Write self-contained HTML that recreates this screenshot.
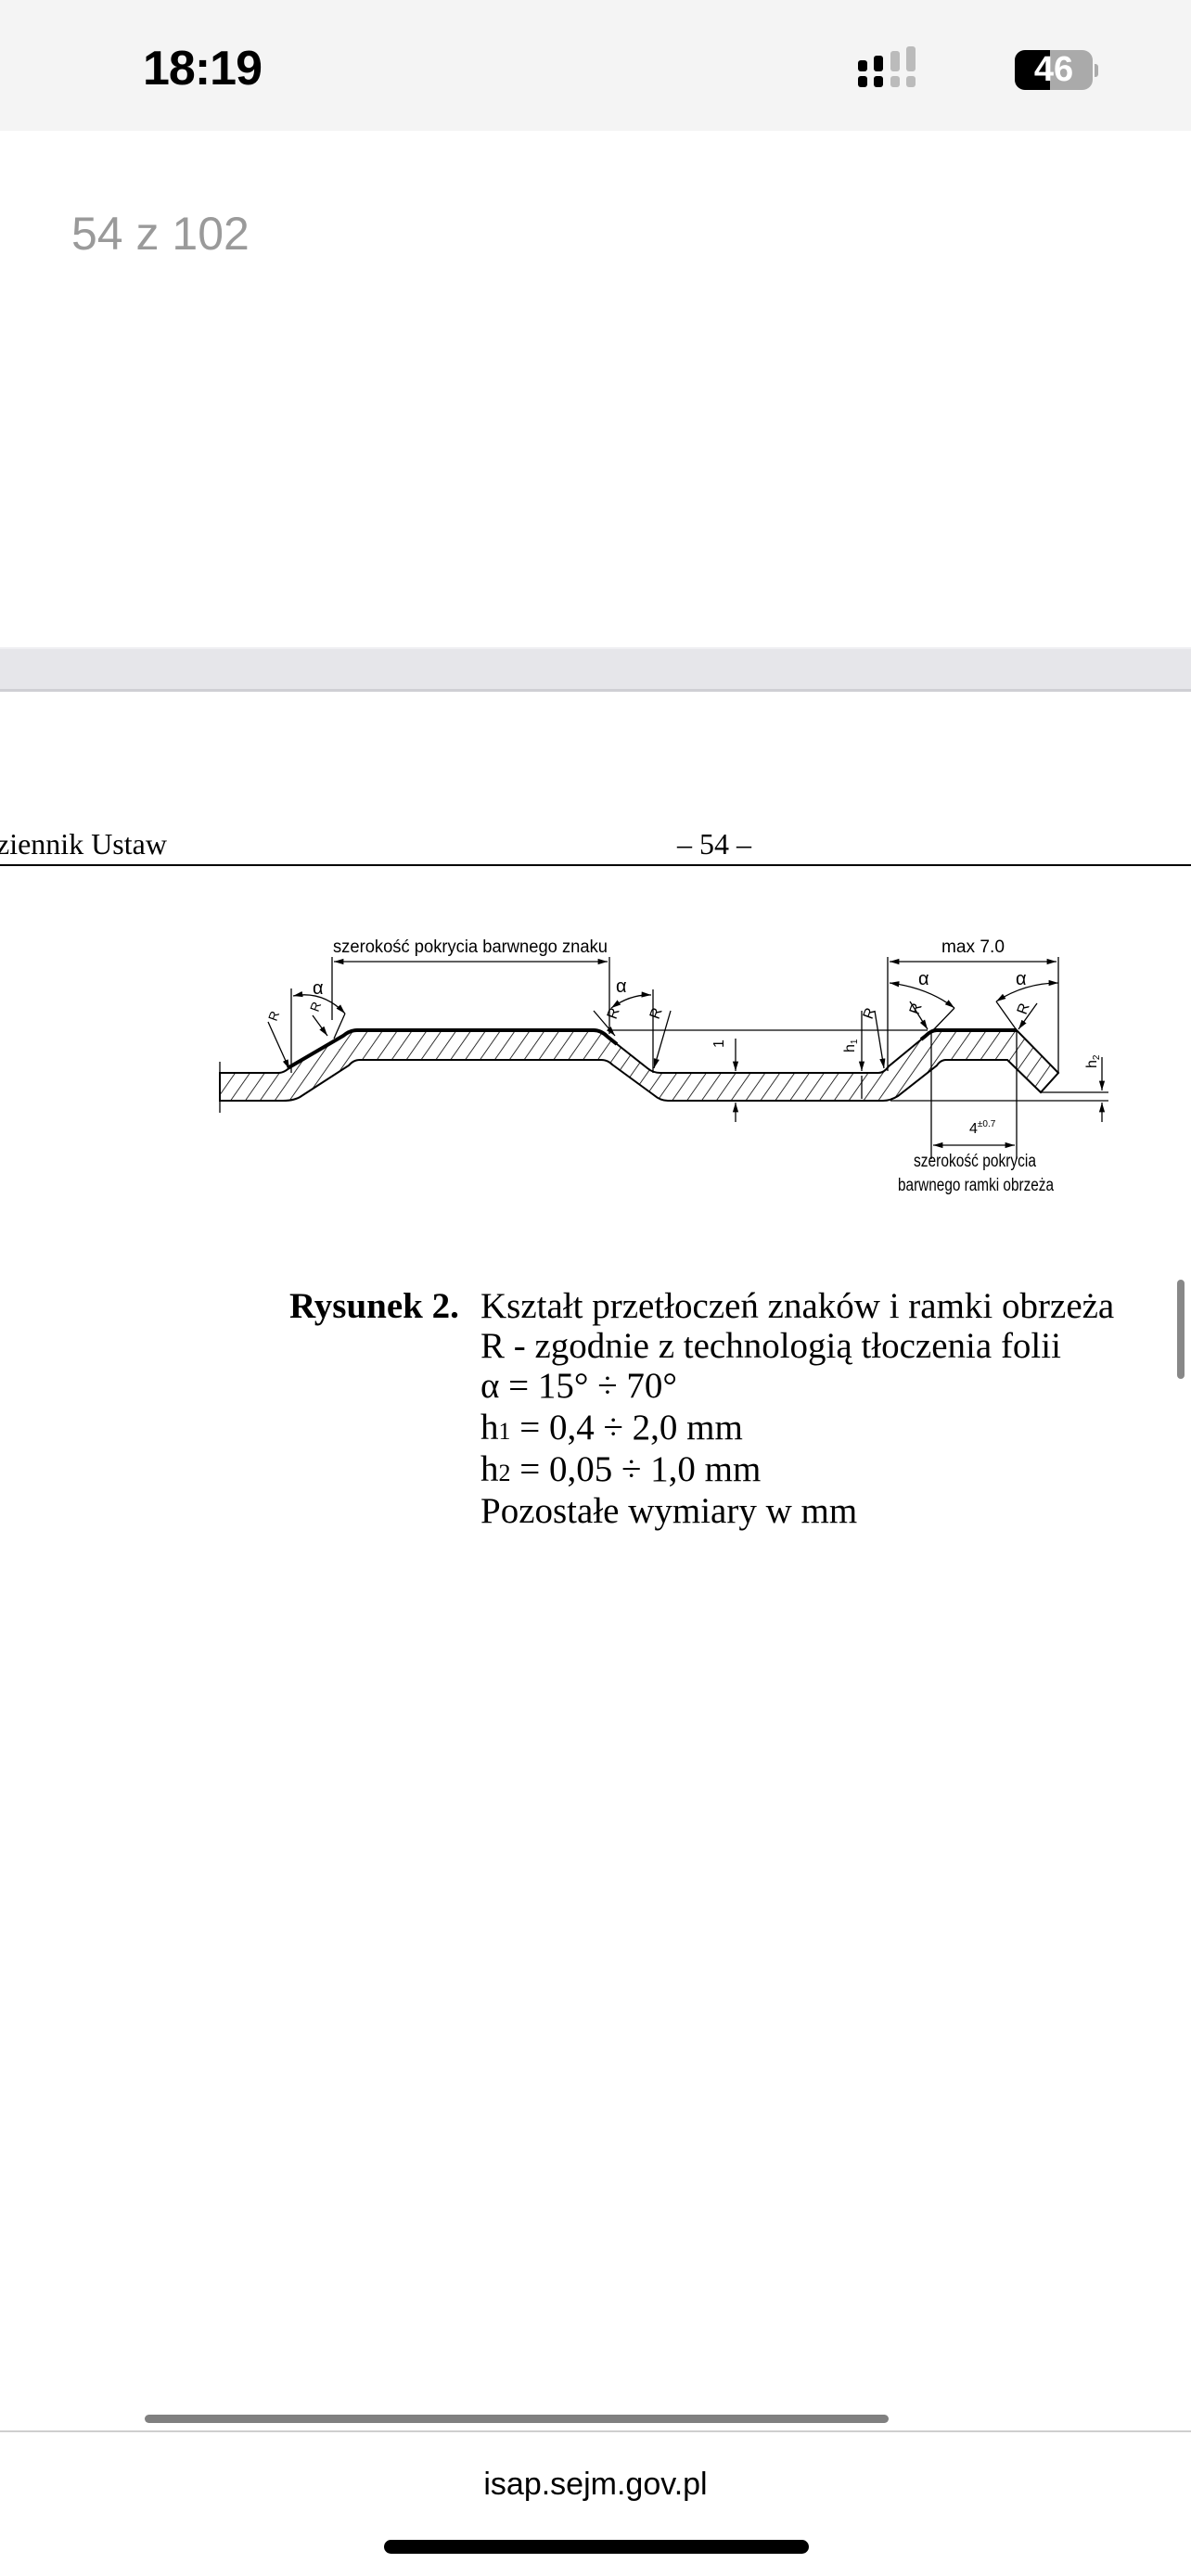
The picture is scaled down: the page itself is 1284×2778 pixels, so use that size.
<!DOCTYPE html>
<html><head><meta charset="utf-8">
<style>
html,body{margin:0;padding:0;background:#fff;}
body{width:1284px;height:2778px;position:relative;overflow:hidden;font-family:"Liberation Sans",sans-serif;}
.abs{position:absolute;}
.serif{font-family:"Liberation Serif",serif;color:#000;}
.cap{position:absolute;left:518px;font-family:"Liberation Serif",serif;font-size:39px;line-height:1;white-space:nowrap;}
.cap span{font-size:26px;}
</style></head><body>
<div class="abs" style="left:0;top:0;width:1284px;height:141px;background:#f4f4f4;"></div>
<div class="abs" style="left:154px;top:44px;font-size:52px;font-weight:bold;letter-spacing:-1px;">18:19</div>
<div class="abs" style="left:925px;top:65px;width:10px;height:12px;background:#000;border-radius:3px;"></div>
<div class="abs" style="left:925px;top:82px;width:10px;height:12px;background:#000;border-radius:3px;"></div>
<div class="abs" style="left:942px;top:60px;width:10px;height:17px;background:#000;border-radius:3px;"></div>
<div class="abs" style="left:942px;top:82px;width:10px;height:12px;background:#000;border-radius:3px;"></div>
<div class="abs" style="left:960px;top:55px;width:10px;height:22px;background:#bbb;border-radius:3px;"></div>
<div class="abs" style="left:960px;top:82px;width:10px;height:12px;background:#bbb;border-radius:3px;"></div>
<div class="abs" style="left:977px;top:50px;width:10px;height:27px;background:#bbb;border-radius:3px;"></div>
<div class="abs" style="left:977px;top:82px;width:10px;height:12px;background:#bbb;border-radius:3px;"></div>
<div class="abs" style="left:1094px;top:54px;width:84px;height:43px;background:#aaa;border-radius:11px;overflow:hidden;">
<div style="width:38px;height:43px;background:#000;"></div></div>
<div class="abs" style="left:1094px;top:52px;width:84px;height:46px;line-height:46px;text-align:center;color:#fff;font-weight:bold;font-size:38px;">46</div>
<div class="abs" style="left:1180px;top:69px;width:4px;height:14px;background:#aaa;border-radius:0 3px 3px 0;"></div>

<div class="abs" style="left:77px;top:223px;font-size:50px;color:#9a9a9a;">54 z 102</div>

<div class="abs" style="left:0;top:698px;width:1284px;height:43px;background:#e6e6ea;border-top:2px solid #efeff2;border-bottom:3px solid #cfcfd4;"></div>

<div class="abs serif" style="left:-4px;top:892px;font-size:32px;">ziennik Ustaw</div>
<div class="abs serif" style="left:730px;top:892px;font-size:32px;">– 54 –</div>
<div class="abs" style="left:0;top:932px;width:1284px;height:2px;background:#000;"></div>

<svg class="abs" style="left:0;top:0" width="1284" height="1400" viewBox="0 0 1284 1400">
<defs>
<pattern id="h" width="13" height="13" patternUnits="userSpaceOnUse" patternTransform="rotate(35)">
<line x1="0" y1="0" x2="0" y2="13" stroke="#000" stroke-width="1.6"/></pattern>
<marker id="a" viewBox="0 0 10 10" refX="10" refY="5" markerWidth="8" markerHeight="8" orient="auto-start-reverse"><path d="M0,2 L10,5 L0,8 Z" fill="#000"/></marker>
</defs>
<path d="M237,1157 L300,1157 Q308,1157 315,1148 L370,1117 Q377,1111 385,1111 L640,1111 Q648,1111 655,1118 L698,1152 Q704,1157 712,1157 L947,1157 Q953,1157 958,1150 L998,1117 Q1004,1111 1010,1111 L1096,1111 L1141,1157 L1122,1178 L1086,1143 L1020,1143 Q1014,1143 1010,1149 L968,1182 Q960,1187 952,1187 L720,1187 Q712,1187 705,1181 L660,1148 Q655,1143 648,1143 L388,1143 Q381,1143 376,1149 L325,1182 Q318,1187 305,1187 L237,1187 Z" fill="url(#h)" stroke="#000" stroke-width="2"/>
<path d="M310,1152 L370,1117 Q377,1111 385,1111 L640,1111 Q648,1111 655,1118 L665,1126" fill="none" stroke="#000" stroke-width="4"/>
<path d="M993,1121 L998,1117 Q1004,1111 1010,1111 L1096,1111" fill="none" stroke="#000" stroke-width="4"/>
<g stroke="#000" stroke-width="1.3" fill="none">
<line x1="237" y1="1145" x2="237" y2="1200"/>
<line x1="358" y1="1032" x2="358" y2="1100"/><line x1="657" y1="1032" x2="657" y2="1115"/>
<line x1="360" y1="1037" x2="655" y2="1037" marker-start="url(#a)" marker-end="url(#a)"/>
<line x1="957" y1="1032" x2="957" y2="1155"/><line x1="1141" y1="1032" x2="1141" y2="1157"/>
<line x1="959" y1="1037" x2="1139" y2="1037" marker-start="url(#a)" marker-end="url(#a)"/>
<line x1="659" y1="1111" x2="1000" y2="1111"/>
<line x1="1004" y1="1111" x2="1004" y2="1250"/><line x1="1096" y1="1111" x2="1096" y2="1250"/>
<line x1="1006" y1="1235" x2="1094" y2="1235" marker-start="url(#a)" marker-end="url(#a)"/>
<line x1="1122" y1="1178" x2="1195" y2="1178"/><line x1="960" y1="1187" x2="1195" y2="1187"/>
<line x1="1188" y1="1140" x2="1188" y2="1176" marker-end="url(#a)"/>
<line x1="1188" y1="1210" x2="1188" y2="1189" marker-end="url(#a)"/>
<line x1="793" y1="1120" x2="793" y2="1155" marker-end="url(#a)"/>
<line x1="793" y1="1210" x2="793" y2="1189" marker-end="url(#a)"/>
<line x1="929" y1="1090" x2="929" y2="1155" marker-end="url(#a)"/>
<line x1="929" y1="1185" x2="929" y2="1160"/>
<line x1="314" y1="1066" x2="314" y2="1157"/>
<path d="M316,1074 Q348,1068 372,1093" marker-start="url(#a)" marker-end="url(#a)"/>
<line x1="289" y1="1102" x2="312" y2="1153" marker-end="url(#a)"/>
<line x1="337" y1="1095" x2="353" y2="1117" marker-end="url(#a)"/>
<line x1="372" y1="1093" x2="360" y2="1120"/>
<path d="M659,1087 Q680,1072 702,1073" marker-start="url(#a)" marker-end="url(#a)"/>
<line x1="704" y1="1067" x2="704" y2="1157"/>
<line x1="640" y1="1090" x2="663" y2="1117" marker-end="url(#a)"/>
<line x1="723" y1="1090" x2="705" y2="1152" marker-end="url(#a)"/>
<line x1="943" y1="1090" x2="953" y2="1152" marker-end="url(#a)"/>
<path d="M959,1060 Q1000,1065 1029,1087" marker-start="url(#a)" marker-end="url(#a)"/>
<line x1="1029" y1="1087" x2="1005" y2="1112"/>
<line x1="981" y1="1080" x2="1000" y2="1110" marker-end="url(#a)"/>
<path d="M1074,1080 Q1105,1060 1141,1060" marker-start="url(#a)" marker-end="url(#a)"/>
<line x1="1074" y1="1080" x2="1096" y2="1111"/>
<line x1="1118" y1="1082" x2="1098" y2="1110" marker-end="url(#a)"/>
</g>
<g font-family="Liberation Sans, sans-serif" font-size="19" fill="#000">
<text x="359" y="1027" textLength="296" lengthAdjust="spacingAndGlyphs">szerokość pokrycia barwnego znaku</text>
<text x="1015" y="1027" textLength="68" lengthAdjust="spacingAndGlyphs">max 7.0</text>
<text x="337" y="1072" font-size="20">α</text>
<text x="664" y="1070" font-size="20">α</text>
<text x="990" y="1062" font-size="20">α</text>
<text x="1095" y="1062" font-size="20">α</text>
<text x="298" y="1102" font-size="14" transform="rotate(-70 298 1102)">R</text>
<text x="343" y="1092" font-size="14" transform="rotate(-70 343 1092)">R</text>
<text x="664" y="1100" font-size="16" transform="rotate(-70 664 1100)">R</text>
<text x="710" y="1100" font-size="16" transform="rotate(-70 710 1100)">R</text>
<text x="940" y="1100" font-size="16" transform="rotate(-70 940 1100)">R</text>
<text x="990" y="1095" font-size="16" transform="rotate(-70 990 1095)">R</text>
<text x="1106" y="1095" font-size="16" transform="rotate(-70 1106 1095)">R</text>
<text x="780" y="1130" font-size="16" transform="rotate(-90 780 1130)">1</text>
<text x="921" y="1135" font-size="16" transform="rotate(-90 921 1135)">h<tspan font-size="10" dy="3">1</tspan></text>
<text x="1182" y="1152" font-size="16" transform="rotate(-90 1182 1152)">h<tspan font-size="10" dy="3">2</tspan></text>
<text x="1045" y="1222" font-size="16">4<tspan font-size="10" dy="-7">±0.7</tspan></text>
<text x="985" y="1258" textLength="132" lengthAdjust="spacingAndGlyphs">szerokość pokrycia</text>
<text x="968" y="1284" textLength="168" lengthAdjust="spacingAndGlyphs">barwnego ramki obrzeża</text>
</g>
</svg>

<div class="cap" style="left:312px;top:1389px;font-weight:bold;">Rysunek 2.</div>
<div class="cap" style="top:1389px;">Kształt przetłoczeń znaków i ramki obrzeża</div>
<div class="cap" style="top:1432px;">R - zgodnie z technologią tłoczenia folii</div>
<div class="cap" style="top:1475px;">α = 15° ÷ 70°</div>
<div class="cap" style="top:1520px;">h<span>1</span> = 0,4 ÷ 2,0 mm</div>
<div class="cap" style="top:1565px;">h<span>2</span> = 0,05 ÷ 1,0 mm</div>
<div class="cap" style="top:1610px;">Pozostałe wymiary w mm</div>

<div class="abs" style="left:1269px;top:1380px;width:8px;height:107px;background:#888;border-radius:4px;"></div>

<div class="abs" style="left:156px;top:2604px;width:802px;height:9px;background:#808080;border-radius:5px;"></div>
<div class="abs" style="left:0;top:2621px;width:1284px;height:2px;background:#cfcfcf;"></div>
<div class="abs" style="left:0;top:2660px;width:1284px;text-align:center;font-size:34px;color:#000;">isap.sejm.gov.pl</div>
<div class="abs" style="left:414px;top:2739px;width:458px;height:15px;background:#000;border-radius:8px;"></div>
</body></html>
